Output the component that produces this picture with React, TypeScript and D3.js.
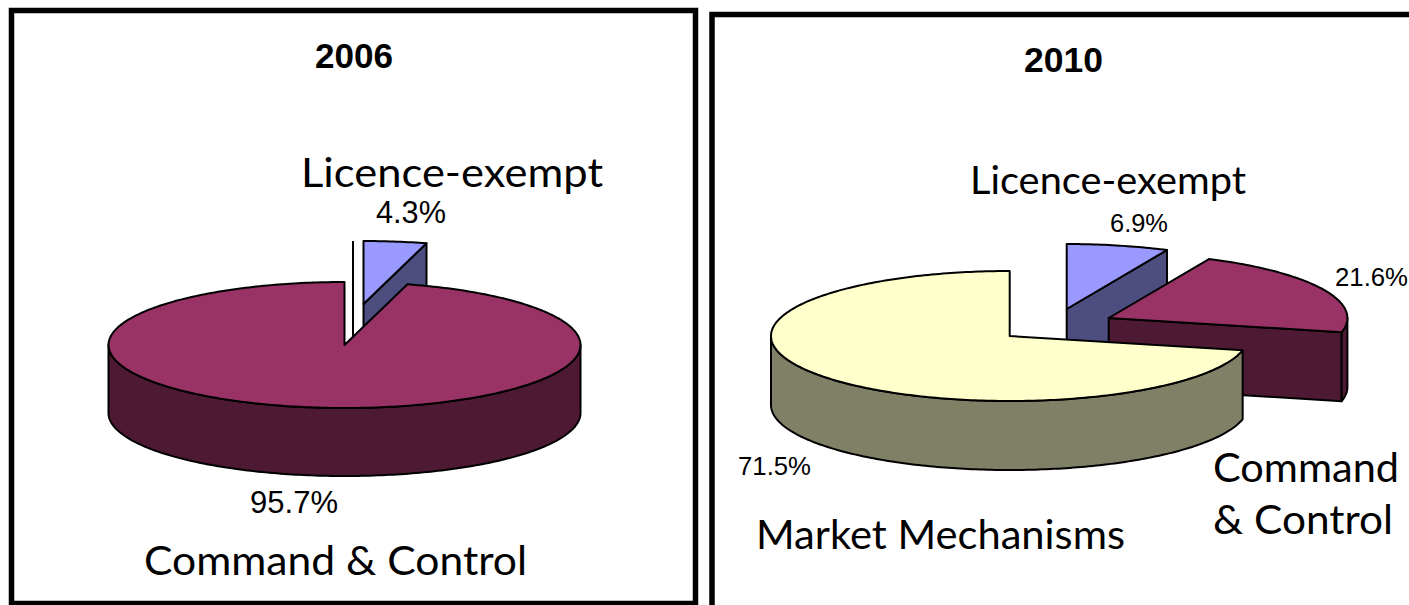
import * as d3 from "d3";

// values
const categories2006 = ["Licence-exempt", "Command & Control"];
const values2006 = [4.3, 95.7];
const categories2010 = ["Licence-exempt", "Command & Control", "Market Mechanisms"];
const values2010 = [6.9, 21.6, 71.5];

const colors: Record<string, { top: string; side: string }> = {
  "Licence-exempt": { top: "#9999ff", side: "#4d4d80" },
  "Command & Control": { top: "#993366", side: "#4d1933" },
  "Market Mechanisms": { top: "#ffffcc", side: "#808066" },
};

const WIDTH = 1409;
const HEIGHT = 605;
const PCT_FONT = "'Liberation Sans', Arial, sans-serif";
const NAME_FONT = "Lato, 'Open Sans', sans-serif";
const fmt = (v: number) => d3.format(".1f")(v) + "%";

interface Slice {
  name: string;
  value: number;
  start: number;
  end: number;
  dx: number;
  dy: number;
}

interface Pie3DProps {
  categories: string[];
  values: number[];
  cx: number;
  cy: number;
  rx: number;
  ry: number;
  depth: number;
  offsets: [number, number][];
}

const Pie3D = ({ categories, values, cx, cy, rx, ry, depth, offsets }: Pie3DProps) => {
  const x = d3.scaleLinear().domain([-1, 1]).range([cx - rx, cx + rx]);
  const y = d3.scaleLinear().domain([-1, 1]).range([cy + ry, cy - ry]);
  const line = d3.line();

  const arcs = d3
    .pie<number>()
    .sort(null)
    .value((d) => d)(values);

  const slices: Slice[] = arcs.map((a, i) => ({
    name: categories[i],
    value: a.value,
    start: a.startAngle,
    end: a.endAngle,
    dx: offsets[i][0],
    dy: offsets[i][1],
  }));

  const rim = (s: Slice, a0: number, a1: number, down = 0) => {
    const n = Math.max(2, Math.ceil((a1 - a0) * 60));
    return d3.range(n + 1).map((i) => {
      const a = a0 + ((a1 - a0) * i) / n;
      return [x(Math.sin(a)) + s.dx, y(Math.cos(a)) + s.dy + down] as [number, number];
    });
  };

  return (
    <g stroke="#000" strokeWidth={2} strokeLinejoin="round">
      {slices.map((s) => {
        const apex: [number, number] = [x(0) + s.dx, y(0) + s.dy];
        const tip = rim(s, s.end, s.end)[0];
        const c = colors[s.name];
        const a0 = Math.max(s.start, Math.PI / 2);
        const a1 = Math.min(s.end, (Math.PI * 3) / 2);
        const top = [apex, ...rim(s, s.start, s.end)];
        return (
          <g key={s.name}>
            {s.end < Math.PI && (
              <path
                fill={c.side}
                d={
                  line([
                    apex,
                    tip,
                    [tip[0], tip[1] + depth],
                    [apex[0], apex[1] + depth],
                  ]) + "Z"
                }
              />
            )}
            {a0 < a1 && (
              <path
                fill={c.side}
                d={line([...rim(s, a0, a1), ...rim(s, a0, a1, depth).reverse()]) + "Z"}
              />
            )}
            <path fill={c.top} d={line(top) + "Z"} />
          </g>
        );
      })}
    </g>
  );
};

const Label = ({ x, y, size, width, font, children, weight }: any) => (
  <text
    x={x}
    y={y}
    fontSize={size}
    fontFamily={font}
    fontWeight={weight}
    fill="#000"
    textLength={width}
    lengthAdjust="spacingAndGlyphs"
  >
    {children}
  </text>
);

export default function App() {
  return (
    <svg
      width={WIDTH}
      height={HEIGHT}
      style={{ position: "absolute", left: 0, top: 0, background: "#fff" }}
    >
      {/* panel frames */}
      <path
        d="M11.5,605V10.5H695.5V603.5H11.5"
        fill="none"
        stroke="#000"
        strokeWidth={5.5}
      />
      <path d="M712,605V14.5H1409" fill="none" stroke="#000" strokeWidth={5.5} />

      {/* 2006 */}
      <Label x={315} y={68} size={35} width={78} font={PCT_FONT} weight="bold">2006</Label>
      <line x1={353} x2={353} y1={241} y2={340} stroke="#000" strokeWidth={2} />
      <Pie3D
        categories={categories2006}
        values={values2006}
        cx={344.5}
        cy={345}
        rx={236}
        ry={63}
        depth={68}
        offsets={[[19, -41], [0, 0]]}
      />
      <Label x={301} y={187} size={41} width={302} font={NAME_FONT}>{categories2006[0]}</Label>
      <Label x={376} y={223} size={31} width={70} font={PCT_FONT}>{fmt(values2006[0])}</Label>
      <Label x={250} y={513} size={31} width={88} font={PCT_FONT}>{fmt(values2006[1])}</Label>
      <Label x={144} y={575} size={41} width={383} font={NAME_FONT}>{categories2006[1]}</Label>

      {/* 2010 */}
      <Label x={1024} y={72} size={35} width={79} font={PCT_FONT} weight="bold">2010</Label>
      <Pie3D
        categories={categories2010}
        values={values2010}
        cx={1009.7}
        cy={336}
        rx={238.7}
        ry={65}
        depth={69}
        offsets={[[57, -27], [99, -18], [0, 0]]}
      />
      <Label x={970} y={194} size={38} width={276} font={NAME_FONT}>{categories2010[0]}</Label>
      <Label x={1110} y={232} size={26} width={58} font={PCT_FONT}>{fmt(values2010[0])}</Label>
      <Label x={1335} y={286} size={26} width={73} font={PCT_FONT}>{fmt(values2010[1])}</Label>
      <Label x={738} y={475} size={26} width={73} font={PCT_FONT}>{fmt(values2010[2])}</Label>
      <Label x={1213} y={482} size={41} width={186} font={NAME_FONT}>Command</Label>
      <Label x={1213} y={534} size={41} width={180} font={NAME_FONT}>{"& Control"}</Label>
      <Label x={756} y={549} size={41} width={369} font={NAME_FONT}>{categories2010[2]}</Label>
    </svg>
  );
}
